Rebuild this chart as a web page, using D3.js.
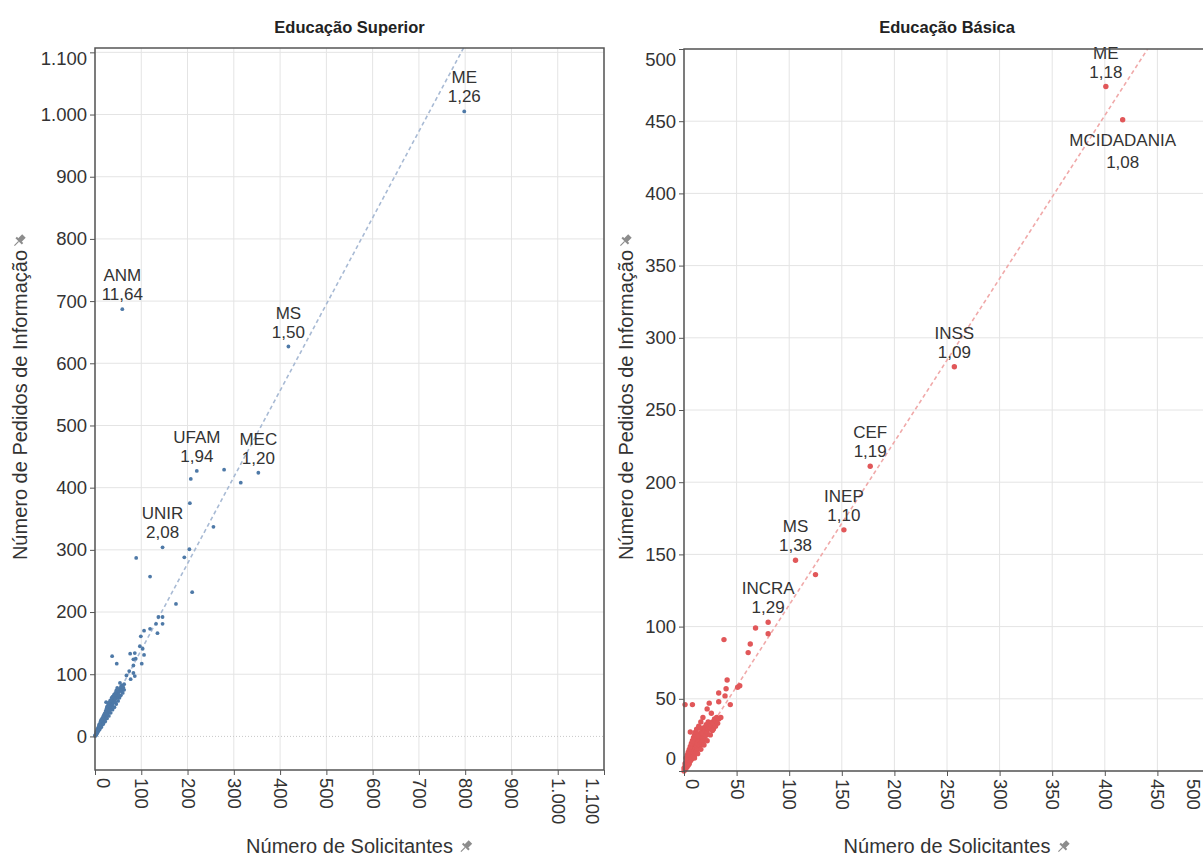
<!DOCTYPE html>
<html>
<head>
<meta charset="utf-8">
<script src="https://cdn.jsdelivr.net/npm/d3@7"></script>
<style>
  body { margin: 0; background: #fff; }
  svg text { font-family: "Liberation Sans", Arial, sans-serif; }
</style>
</head>
<body>
<svg id="chart" width="1203" height="859"></svg>
<script>
// Educação Superior: [solicitantes, pedidos]
const supPoints = [
  [0,1],[1,1],[1,2],[1,3],[2,2],[2,3],[2,4],[3,3],[3,4],[3,5],[4,5],[4,6],[4,7],[5,6],[5,7],[5,8],
  [6,7],[6,9],[6,10],[7,9],[7,10],[7,12],[8,10],[8,11],[8,13],[9,12],[9,13],[9,15],[10,13],[10,14],
  [10,16],[11,14],[11,16],[11,18],[12,15],[12,17],[12,19],[13,17],[13,19],[13,21],[14,18],[14,20],
  [14,22],[15,19],[15,22],[15,24],[16,21],[16,23],[16,26],[17,22],[17,25],[17,28],[18,23],[18,26],
  [18,29],[19,25],[19,28],[19,31],[20,26],[20,29],[20,33],[21,28],[21,30],[21,34],[22,29],[22,32],
  [22,36],[23,30],[23,34],[23,38],[24,32],[24,35],[24,40],[25,33],[25,37],[25,42],[26,35],[26,39],
  [27,36],[27,41],[27,45],[28,38],[28,42],[29,39],[29,44],[30,40],[30,45],[30,49],[31,42],[31,46],
  [32,43],[32,48],[33,45],[33,50],[34,46],[34,51],[35,48],[35,53],[36,49],[36,55],[37,51],[38,52],
  [38,57],[39,54],[40,55],[40,59],[41,57],[42,58],[42,62],[43,60],[44,61],[45,63],[46,64],[47,66],
  [48,67],[49,70],[51,71],[52,74],[55,77],[56,80],[58,82],
  [3,8],[5,11],[6,13],[8,16],[9,19],[10,20],[12,24],[13,26],[15,28],[17,31],[19,34],[21,37],
  [23,41],[25,45],[26,48],[28,50],[31,54],[33,58],[36,62],[38,64],[41,67],[44,70],[46,74],[48,78],
  [10,11],[14,15],[18,20],[22,24],[26,29],[30,33],[34,38],[38,43],[42,47],[46,52],[50,57],[53,62],
  [56,66],[60,70],[44,55],[49,62],[52,66],[57,74],[60,78],[63,84],
  [24,55],[29,54],[37,129],[47,117],[54,86],[61,79],[58,72],[63,75],[68,98],[74,105],[77,92],
  [83,102],[86,97],[76,133],[83,124],[88,125],[83,114],[101,117],[106,131],[86,134],[97,145],
  [103,141],[99,161],[135,166],[106,170],[119,173],[132,181],[146,181],[137,192],[146,192],
  [175,213],[210,232],[119,257],[89,287],[193,288],[204,301],[256,337],[205,375],[207,414],
  [279,429],[315,408]
];
const supNames = ["ME", "ANM", "MS", "UFAM", "MEC", "UNIR"];
const supLabelX = [798, 59, 418, 220, 353, 146];
const supLabelY = [1005, 687, 627, 427, 424, 304];
const supRatio = [1.26, 11.64, 1.50, 1.94, 1.20, 2.08];
const supTrend = [1.39, 0];           // inclinação, intercepto
const supXTicks = [0,100,200,300,400,500,600,700,800,900,1000,1100];
const supYTicks = [0,100,200,300,400,500,600,700,800,900,1000,1100];

// Educação Básica
const basPoints = [
  [0,0],[0,2],[1,1],[1,3],[1,5],[2,2],[2,4],[2,6],[3,3],[3,5],[3,8],[4,4],[4,6],[4,9],[5,5],[5,7],
  [5,10],[6,7],[6,9],[6,12],[7,8],[7,10],[7,13],[8,9],[8,12],[8,15],[9,10],[9,13],[9,17],[10,11],
  [10,14],[10,18],[11,13],[11,16],[11,20],[12,14],[12,17],[12,22],[13,15],[13,19],[14,16],[14,21],
  [15,18],[15,22],[15,26],[16,19],[16,24],[17,20],[17,23],[17,28],[18,21],[18,26],[19,23],[19,30],
  [20,24],[20,28],[21,25],[21,32],[22,27],[22,30],[23,29],[23,34],[24,31],[25,30],[25,33],[26,32],
  [27,34],[28,33],[29,36],[30,35],[31,37],[33,36],
  [2,9],[3,11],[4,13],[5,15],[6,17],[7,19],[8,21],[9,23],[10,25],[11,27],[12,29],[14,31],[16,34],
  [13,24],[15,30],[10,9],[13,12],[16,15],[19,18],[22,21],[25,25],[28,29],[30,31],[32,33],[27,28],
  [1,46],[8,46],[6,27],[18,37],[22,43],[24,47],[26,40],[33,48],[35,37],[33,54],[39,52],[40,57],
  [41,63],[44,46],[51,58],[53,59],[38,91],[61,82],[63,88],[68,99],[80,95],[125,136]
];
const basNames = ["ME", "MCIDADANIA", "INSS", "CEF", "INEP", "MS", "INCRA"];
const basLabelX = [401, 417, 257, 177, 152, 106, 80];
const basLabelY = [474, 451, 280, 211, 167, 146, 103];
const basRatio = [1.18, 1.08, 1.09, 1.19, 1.10, 1.38, 1.29];
const basTrend = [1.13, 2];
const basXTicks = [0,50,100,150,200,250,300,350,400,450,500];
const basYTicks = [0,50,100,150,200,250,300,350,400,450,500];

const locale = d3.formatLocale({ decimal: ",", thousands: ".", grouping: [3], currency: ["R$", ""] });
const fmtInt = locale.format(",d");
const fmtRatio = locale.format(".2f");

const svg = d3.select("#chart");
svg.append("rect").attr("width", 1203).attr("height", 859).attr("fill", "#fff");

function pin(g, x, y) {
  const p = g.append("g").attr("transform", `translate(${x},${y}) rotate(45)`).attr("fill", "#8c8c8c");
  p.append("rect").attr("x", -2.5).attr("y", -7).attr("width", 5).attr("height", 6);
  p.append("rect").attr("x", -4.5).attr("y", -1.5).attr("width", 9).attr("height", 2);
  p.append("rect").attr("x", -0.6).attr("y", 0.5).attr("width", 1.2).attr("height", 6);
}

function drawPanel(p) {
  const x = d3.scaleLinear().domain(p.xDomain).range([p.left, p.right]);
  const y = d3.scaleLinear().domain(p.yDomain).range([p.bottom, p.top]);
  const g = svg.append("g");

  svg.append("clipPath").attr("id", "clip-" + p.id)
    .append("rect")
    .attr("x", p.left).attr("y", p.top)
    .attr("width", p.right - p.left).attr("height", p.bottom - p.top);

  // grade
  g.append("g").selectAll("line").data(p.xTicks).join("line")
    .attr("x1", d => x(d)).attr("x2", d => x(d))
    .attr("y1", p.top).attr("y2", p.bottom)
    .attr("stroke", "#e4e4e4");
  g.append("g").selectAll("line").data(p.yTicks.filter(d => !(p.zeroRule && d === 0))).join("line")
    .attr("x1", p.left).attr("x2", p.right)
    .attr("y1", d => y(d)).attr("y2", d => y(d))
    .attr("stroke", "#e4e4e4");
  if (p.zeroRule) {
    g.append("line")
      .attr("x1", p.left).attr("x2", p.right)
      .attr("y1", y(0)).attr("y2", y(0))
      .attr("stroke", "#c8c8c8").attr("stroke-dasharray", "1,2");
  }

  // linha de tendência
  const xEnd = (p.yDomain[1] - p.trend[1]) / p.trend[0];
  g.append("line")
    .attr("clip-path", `url(#clip-${p.id})`)
    .attr("x1", x(0)).attr("y1", y(p.trend[1]))
    .attr("x2", x(xEnd)).attr("y2", y(p.yDomain[1]))
    .attr("stroke", p.lineColor).attr("stroke-width", 1.6)
    .attr("stroke-dasharray", "4,3");

  // pontos
  const allPts = p.points.concat(p.labelX.map((v, i) => [v, p.labelY[i]]));
  g.append("g").selectAll("circle").data(allPts).join("circle")
    .attr("cx", d => x(d[0])).attr("cy", d => y(d[1]))
    .attr("r", p.r).attr("fill", p.color);

  // rótulos
  const lab = g.append("g").selectAll("text").data(p.names).join("text")
    .attr("text-anchor", "middle")
    .attr("font-size", 17)
    .attr("fill", "#333");
  lab.each(function(name, i) {
    const px = x(p.labelX[i]), py = y(p.labelY[i]);
    const below = p.below.includes(name);
    const t = d3.select(this);
    t.append("tspan").attr("x", px).attr("y", below ? py + 26 : py - 28).text(name);
    t.append("tspan").attr("x", px).attr("y", below ? py + 48 : py - 9).text(fmtRatio(p.ratio[i]));
  });

  // moldura
  g.append("rect")
    .attr("x", p.left).attr("y", p.top)
    .attr("width", p.right - p.left).attr("height", p.bottom - p.top)
    .attr("fill", "none").attr("stroke", "#555").attr("stroke-width", 1.5);

  // eixo y
  const ya = g.append("g").attr("transform", `translate(${p.left},0)`)
    .call(d3.axisLeft(y).tickValues(p.yTicks).tickFormat(fmtInt).tickSize(5).tickPadding(3));
  ya.select(".domain").remove();
  ya.selectAll(".tick line").attr("stroke", "#555");
  ya.selectAll(".tick text")
    .attr("font-size", 18.5).attr("fill", "#333")
    .attr("y", d => {
      const py = y(d);
      if (py - p.top < 11) return p.top + 11 - py;
      if (p.bottom - py < 12) return p.bottom - 12 - py;
      return 0;
    });

  // eixo x
  const xa = g.append("g").attr("transform", `translate(0,${p.bottom})`)
    .call(d3.axisBottom(x).tickValues(p.xTicks).tickFormat(fmtInt).tickSize(5));
  xa.select(".domain").remove();
  xa.selectAll(".tick line").attr("stroke", "#555");
  xa.selectAll(".tick text")
    .attr("font-size", 18.5).attr("fill", "#333")
    .attr("y", 0).attr("x", 8).attr("dy", "0.35em")
    .style("text-anchor", "start")
    .attr("transform", d => {
      const px = x(d);
      let s = 0;
      if (px - p.left < 8) s = p.left + 8 - px;
      if (p.right - px < 12) s = p.right - 12 - px;
      if (px > 1190) s = 1193 - px;
      return `translate(${s},0) rotate(90)`;
    });

  // títulos
  const cx = (p.left + p.right) / 2;
  svg.append("text").attr("x", cx).attr("y", 33)
    .attr("text-anchor", "middle").attr("font-size", 16.5).attr("font-weight", "bold")
    .attr("fill", "#222").text(p.title);

  svg.append("text").attr("x", cx).attr("y", 853)
    .attr("text-anchor", "middle").attr("font-size", 20).attr("fill", "#333")
    .text("Número de Solicitantes");
  pin(svg, cx + 116, 847);

  svg.append("text")
    .attr("transform", `translate(${p.titleX},405) rotate(-90)`)
    .attr("text-anchor", "middle").attr("font-size", 20).attr("fill", "#333")
    .text("Número de Pedidos de Informação");
  pin(svg, p.titleX - 8, 241);
}

drawPanel({
  id: "sup", title: "Educação Superior",
  points: supPoints, names: supNames, labelX: supLabelX, labelY: supLabelY, ratio: supRatio,
  trend: supTrend, xTicks: supXTicks, yTicks: supYTicks,
  xDomain: [0, 1100], yDomain: [-54, 1107],
  left: 95, right: 604, top: 48, bottom: 770, titleX: 27,
  color: "#4e79a7", lineColor: "#a8bad4", r: 1.9, zeroRule: true, below: []
});

drawPanel({
  id: "bas", title: "Educação Básica",
  points: basPoints, names: basNames, labelX: basLabelX, labelY: basLabelY, ratio: basRatio,
  trend: basTrend, xTicks: basXTicks, yTicks: basYTicks,
  xDomain: [0, 500], yDomain: [0, 500],
  left: 684, right: 1210, top: 49, bottom: 771, titleX: 633,
  color: "#e15759", lineColor: "#f0a9a9", r: 2.7, zeroRule: false, below: ["MCIDADANIA"]
});
</script>
</body>
</html>
